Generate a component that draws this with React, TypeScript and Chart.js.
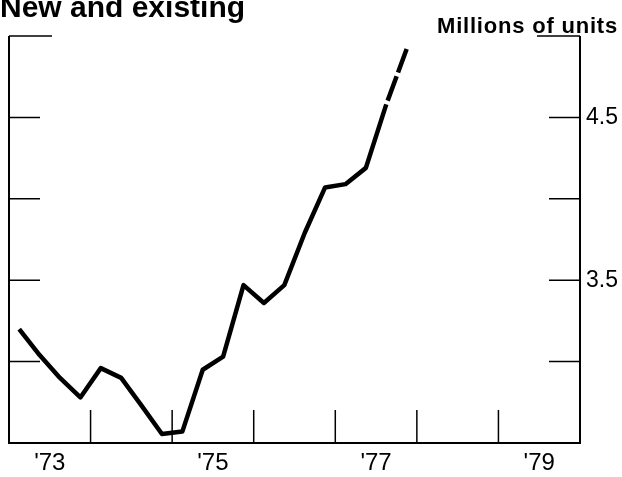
import { useEffect, useRef } from "react";
import { Chart, registerables } from "chart.js";

Chart.register(...registerables);

// Quarterly sales of new and existing homes (millions of units, annual rate)
const quarters = [
  "1973Q1", "1973Q2", "1973Q3", "1973Q4",
  "1974Q1", "1974Q2", "1974Q3", "1974Q4",
  "1975Q1", "1975Q2", "1975Q3", "1975Q4",
  "1976Q1", "1976Q2", "1976Q3", "1976Q4",
  "1977Q1", "1977Q2", "1977Q3", "1977Q4",
];
const salesValues = [
  3.2, 3.04, 2.9, 2.78,
  2.96, 2.9, 2.73, 2.555,
  2.57, 2.95, 3.03, 3.47,
  3.36, 3.47, 3.79, 4.07,
  4.09, 4.19, 4.58, 4.92,
];
// the line is dashed (preliminary) from this quarter onward
const preliminaryFromIndex = 18;

const yearLabelPositions = [1973.5, 1975.5, 1977.5, 1979.5];
const yearLabels = ["'73", "'75", "'77", "'79"];
const yearTickMarks = [1974, 1975, 1976, 1977, 1978, 1979];
const xRange = [1973, 1980];

const valueTicks = [3.0, 3.5, 4.0, 4.5, 5.0];
const valueTickLabels = ["", "3.5", "", "4.5", ""];
const yRange = [2.5, 5.0];

const titleText = "New and existing";
const unitText = "Millions of units";

const FONT = "'Liberation Sans', Arial, Helvetica, sans-serif";

function quarterToYear(q: string): number {
  const y = parseInt(q.slice(0, 4), 10);
  const n = parseInt(q.slice(5), 10);
  return y + (n - 0.5) / 4;
}

const framePlugin = {
  id: "frame",
  afterDraw(chart: any) {
    const { ctx, chartArea } = chart;
    const { left, right, top, bottom } = chartArea;
    const xs = chart.scales.x;
    const ys = chart.scales.y;
    ctx.save();
    ctx.strokeStyle = "#000";
    ctx.lineCap = "butt";
    // frame: left, bottom, right
    ctx.lineWidth = 2;
    ctx.beginPath();
    ctx.moveTo(left, top);
    ctx.lineTo(left, bottom);
    ctx.lineTo(right, bottom);
    ctx.lineTo(right, top);
    ctx.stroke();
    // inward value ticks on both sides
    ctx.lineWidth = 1.5;
    valueTicks.forEach((v) => {
      const py = ys.getPixelForValue(v);
      const len = v === yRange[1] ? 43 : 31;
      ctx.beginPath();
      ctx.moveTo(left, py);
      ctx.lineTo(left + len, py);
      ctx.moveTo(right, py);
      ctx.lineTo(right - len, py);
      ctx.stroke();
    });
    // upward year ticks
    yearTickMarks.forEach((yr) => {
      const px = xs.getPixelForValue(yr);
      ctx.beginPath();
      ctx.moveTo(px, bottom);
      ctx.lineTo(px, bottom - 33);
      ctx.stroke();
    });
    // texts
    ctx.fillStyle = "#000";
    ctx.textBaseline = "alphabetic";
    ctx.textAlign = "left";
    ctx.font = `bold 30px ${FONT}`;
    ctx.fillText(titleText, 0, 17);
    ctx.font = `bold 22px ${FONT}`;
    (ctx as any).letterSpacing = "0.8px";
    ctx.fillText(unitText, 437, 33);
    (ctx as any).letterSpacing = "0px";
    ctx.restore();
  },
};

export default function App() {
  const ref = useRef<HTMLCanvasElement | null>(null);

  useEffect(() => {
    document.body.style.margin = "0";
    const canvas = ref.current;
    if (!canvas) return;
    const points = quarters.map((q, i) => ({ x: quarterToYear(q), y: salesValues[i] }));
    const chart = new Chart(canvas, {
      type: "line",
      data: {
        datasets: [
          {
            data: points,
            borderColor: "#000",
            borderWidth: 4.5,
            pointRadius: 0,
            tension: 0,
            borderCapStyle: "butt",
            borderJoinStyle: "round",
            segment: {
              borderDash: (c: any) =>
                c.p0DataIndex >= preliminaryFromIndex ? [26, 4] : undefined,
              borderDashOffset: (c: any) =>
                c.p0DataIndex >= preliminaryFromIndex ? 26 : undefined,
            },
          },
        ],
      },
      plugins: [framePlugin],
      options: {
        responsive: false,
        animation: false,
        events: [],
        layout: { padding: { left: 9, top: 36, right: 0, bottom: 0 } },
        plugins: {
          legend: { display: false },
          tooltip: { enabled: false },
          title: { display: false },
        },
        scales: {
          x: {
            type: "linear",
            position: "bottom",
            min: xRange[0],
            max: xRange[1],
            grid: { display: false, drawTicks: false },
            border: { display: false },
            afterBuildTicks: (s: any) => {
              s.ticks = yearLabelPositions.map((v) => ({ value: v }));
            },
            afterFit: (s: any) => {
              s.height = 34;
            },
            ticks: {
              autoSkip: false,
              maxRotation: 0,
              padding: 6,
              color: "#000",
              font: { family: FONT, size: 24 },
              callback: (v: any) => {
                const i = yearLabelPositions.indexOf(Number(v));
                return i >= 0 ? yearLabels[i] : "";
              },
            },
          },
          y: {
            type: "linear",
            position: "right",
            min: yRange[0],
            max: yRange[1],
            grid: { display: false, drawTicks: false },
            border: { display: false },
            afterBuildTicks: (s: any) => {
              s.ticks = valueTicks.map((v) => ({ value: v }));
            },
            afterFit: (s: any) => {
              s.width = 42;
            },
            ticks: {
              autoSkip: false,
              padding: 6,
              color: "#000",
              font: { family: FONT, size: 23 },
              callback: (v: any) => {
                const i = valueTicks.indexOf(Number(v));
                return i >= 0 ? valueTickLabels[i] : "";
              },
            },
          },
        },
      },
    });
    return () => chart.destroy();
  }, []);

  return <canvas ref={ref} width={622} height={477} style={{ display: "block" }} />;
}
